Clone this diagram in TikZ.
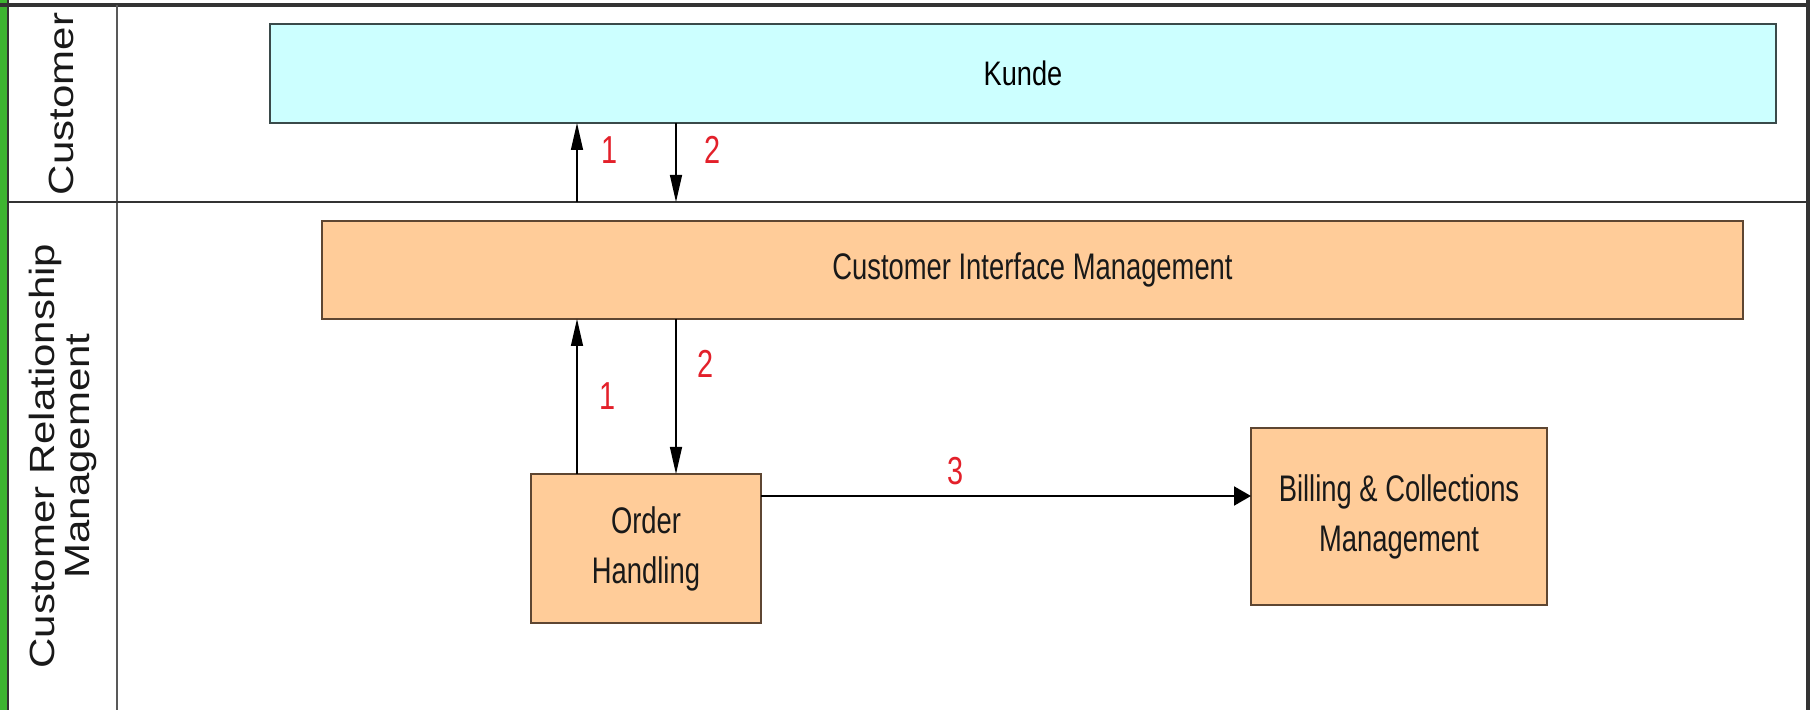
\documentclass[tikz,border=0pt]{standalone}
\usepackage{fontspec}
\setmainfont{Liberation Sans}
\newfontfamily\boxfont[FakeStretch=0.74]{Liberation Sans}
\newfontfamily\kundefont[FakeStretch=0.8]{Liberation Sans}
\newfontfamily\lanefont[FakeStretch=1.2]{Liberation Sans}
\usetikzlibrary{arrows.meta}

\definecolor{custfill}{HTML}{CCFFFF}
\definecolor{custline}{HTML}{3A4A4A}
\definecolor{procfill}{HTML}{FFCC99}
\definecolor{procline}{HTML}{5E4632}
\definecolor{flownum}{HTML}{E3202A}
\definecolor{lanegreen}{HTML}{3DB530}
\definecolor{laneline}{HTML}{333333}

\tikzset{
  custbox/.style={draw=custline, fill=custfill, line width=0.8pt,
    inner sep=0pt, outer sep=0pt,
    font=\kundefont\fontsize{17}{20}\selectfont},
  procbox/.style={draw=procline, fill=procfill, line width=0.8pt,
    inner sep=0pt, outer sep=0pt, align=center, text=black!90,
    font=\boxfont\fontsize{18.5}{25}\selectfont},
  flowlabel/.style={text=flownum, inner sep=0pt,
    font=\boxfont\fontsize{19.5}{22}\selectfont},
  lanelabel/.style={rotate=90, align=center, inner sep=0pt, text=black!90,
    font=\lanefont\fontsize{17.5}{17.5}\selectfont},
  vflow/.style={line width=0.7pt, -{Triangle[length=13.5pt,width=6pt]}},
  hflow/.style={line width=1pt, -{Triangle[length=8.5pt,width=9.5pt]}},
}

\begin{document}
\begin{tikzpicture}[x=0.5pt, y=-0.5pt]
  \useasboundingbox (0,0) rectangle (1810,710);
  \fill[white] (0,0) rectangle (1810,710);

  % pool frame and lanes
  \fill[lanegreen] (0,0) rectangle (7,710);
  \draw[laneline, line width=1pt] (8,0) -- (8,710);
  \draw[laneline, line width=2pt] (0,5) -- (1810,5);
  \draw[laneline, line width=2pt] (1808,0) -- (1808,710);
  \draw[black!65, line width=1.1pt] (117,5) -- (117,710);
  \draw[laneline, line width=1pt] (8,202) -- (1808,202);

  % lane titles
  \node[lanelabel] (laneCust) at (61,104) {Customer};
  \node[lanelabel] (laneCRM) at (63,456) {Customer Relationship\\Management};

  % process boxes
  \node[custbox, minimum width=753pt, minimum height=49.5pt] (kunde) at (1023,73.5) {Kunde};
  \node[procbox, minimum width=710.5pt, minimum height=49pt] (cim) at (1032.5,270) {Customer Interface Management};
  \node[procbox, minimum width=115pt, minimum height=74.5pt] (order) at (646,548.5) {Order\\Handling};
  \node[procbox, minimum width=148pt, minimum height=88.5pt] (billing) at (1399,516.5) {Billing \& Collections\\Management};

  % attachment points on the lane border
  \coordinate (up) at (577,202);
  \coordinate (down) at (676,202);
  \coordinate (ordout) at (761,496);

  % flows
  \draw[vflow] (up) -- (kunde.south -| up);
  \draw[vflow] (kunde.south -| down) -- (down);
  \draw[vflow] (order.north -| up) -- (cim.south -| up);
  \draw[vflow] (cim.south -| down) -- (order.north -| down);
  \draw[hflow] (ordout) -- (billing.west |- ordout);

  % flow numbers
  \node[flowlabel] (n1a) at (610,150) {1};
  \node[flowlabel] (n2a) at (713,150) {2};
  \node[flowlabel] (n1b) at (608,396) {1};
  \node[flowlabel] (n2b) at (706,364) {2};
  \node[flowlabel] (n3) at (956,471) {3};
\end{tikzpicture}
\end{document}
